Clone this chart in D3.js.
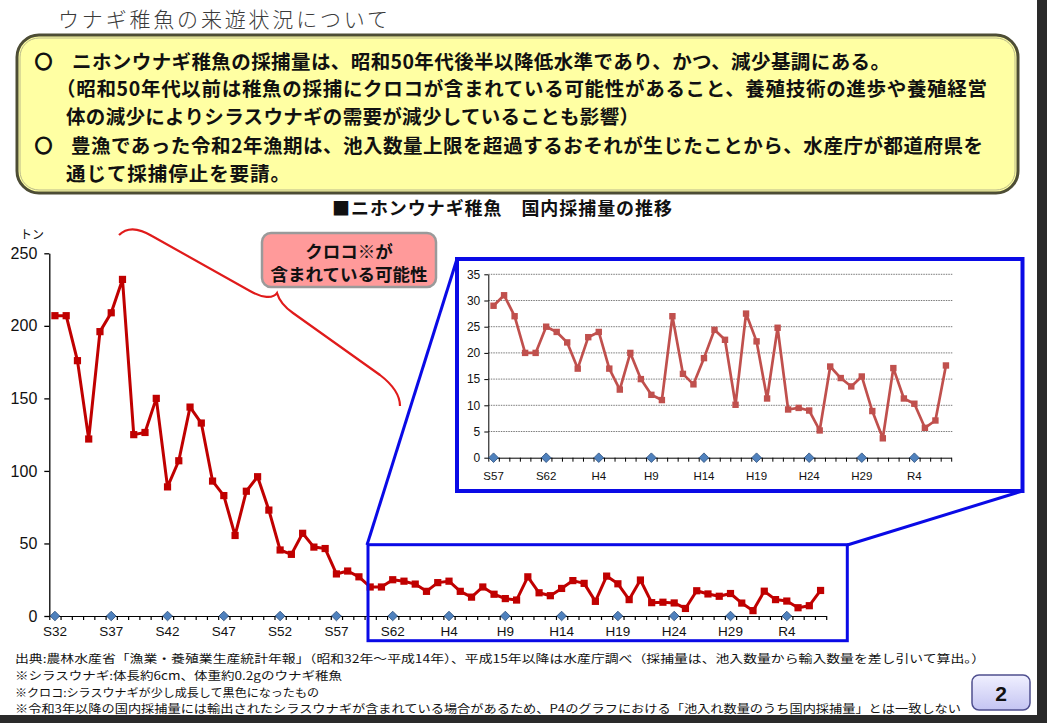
<!DOCTYPE html>
<html lang="ja">
<head>
<meta charset="utf-8">
<script src="https://cdn.jsdelivr.net/npm/d3@7"></script>
<style>
  body { margin: 0; background: #fff; }
  svg { display: block; }
  .jp { font-family: 'Noto Sans CJK JP', sans-serif; }
  .num { font-family: 'Liberation Sans', Arial, sans-serif; }
</style>
</head>
<body>
<svg id="chart"></svg>
<script>
// 漁期年 S32(1957) 〜 R7(2025)
const years = d3.range(1957, 2026);
// 国内採捕量(トン) S32〜S56
const catchEarly = [207, 207, 176, 122, 196, 209, 232, 125, 126.5, 150,
  89, 107, 144, 133, 93, 83, 55.5, 86, 96, 73,
  45.5, 42.5, 57, 47.5, 46.5];
// 国内採捕量(トン) S57〜R7 (拡大図と同じ値)
const catchRecent = [29, 31, 27, 20, 20, 25, 24, 22, 17, 23,
  24, 17, 13, 20, 15, 12, 11, 27, 16, 14,
  19, 24.4, 22.5, 10.1, 27.5, 22.2, 11.3, 24.8, 9.2, 9.5,
  9.0, 5.2, 17.4, 15.2, 13.6, 15.5, 8.9, 3.7, 17.1, 11.3,
  10.3, 5.7, 7.1, 17.6];
const tickYears = [1957, 1962, 1967, 1972, 1977, 1982, 1987, 1992, 1997, 2002, 2007, 2012, 2017, 2022];
const tickNames = ['S32', 'S37', 'S42', 'S47', 'S52', 'S57', 'S62', 'H4', 'H9', 'H14', 'H19', 'H24', 'H29', 'R4'];
const mainTicks = [0, 50, 100, 150, 200, 250];
const insetTicks = [0, 5, 10, 15, 20, 25, 30, 35];

const boxLines = [
  'ニホンウナギ稚魚の採捕量は、昭和50年代後半以降低水準であり、かつ、減少基調にある。',
  '（昭和50年代以前は稚魚の採捕にクロコが含まれている可能性があること、養殖技術の進歩や養殖経営',
  '体の減少によりシラスウナギの需要が減少していることも影響）',
  '豊漁であった令和2年漁期は、池入数量上限を超過するおそれが生じたことから、水産庁が都道府県を',
  '通じて採捕停止を要請。'
];
const notes = [
  '出典:農林水産省「漁業・養殖業生産統計年報」（昭和32年～平成14年）、平成15年以降は水産庁調べ（採捕量は、池入数量から輸入数量を差し引いて算出。）',
  '※シラスウナギ:体長約6cm、体重約0.2gのウナギ稚魚',
  '※クロコ:シラスウナギが少し成長して黒色になったもの',
  '※令和3年以降の国内採捕量には輸出されたシラスウナギが含まれている場合があるため、P4のグラフにおける「池入れ数量のうち国内採捕量」とは一致しない'
];

const mainData = years.map((yr, i) => ({year: yr, value: catchEarly.concat(catchRecent)[i]}));
const insetYears = years.filter(yr => yr >= 1982);
const insetData = insetYears.map((yr, i) => ({year: yr, value: catchRecent[i]}));

const W = 1047, H = 723;
const svg = d3.select('#chart').attr('width', W).attr('height', H);

svg.append('rect').attr('width', W).attr('height', H).attr('fill', '#fff');
svg.append('rect').attr('x', 1037).attr('width', W - 1037).attr('height', H).attr('fill', '#2a2a2a');
svg.append('rect').attr('y', 715).attr('width', W).attr('height', H - 715).attr('fill', '#2a2a2a');

// page title
svg.append('text').attr('class', 'jp')
  .attr('x', 58).attr('y', 18).attr('dominant-baseline', 'central')
  .attr('textLength', 330)
  .style('font-size', '21px').style('font-weight', 300).style('fill', '#3a3a3a')
  .text('ウナギ稚魚の来遊状況について');

// yellow summary box
svg.append('rect').attr('x', 17).attr('y', 35).attr('width', 1001).attr('height', 158)
  .attr('rx', 22).attr('fill', '#ffffa3').attr('stroke', '#4d4d35').attr('stroke-width', 3);
svg.append('rect').attr('x', 20).attr('y', 38).attr('width', 995).attr('height', 152)
  .attr('rx', 19).attr('fill', 'none').attr('stroke', '#b9b98a').attr('stroke-width', 1);

const boxPos = [
  {x: 72, y: 60.5, w: 818},
  {x: 56, y: 87, w: 931},
  {x: 66, y: 115.5, w: 573},
  {x: 71, y: 144.5, w: 912},
  {x: 66, y: 172.5, w: 224}
];
svg.append('g').selectAll('text')
  .data(boxLines)
  .join('text')
  .attr('class', 'jp')
  .attr('x', (d, i) => boxPos[i].x)
  .attr('y', (d, i) => boxPos[i].y)
  .attr('dominant-baseline', 'central')
  .attr('textLength', (d, i) => boxPos[i].w)
  .style('font-size', '19.5px').style('font-weight', 700).style('fill', '#111')
  .text(d => d);
// bullets, thickened with a stroke like the bold original
svg.append('g').selectAll('text')
  .data([60.5, 144.5])
  .join('text')
  .attr('class', 'jp')
  .attr('x', 43.5).attr('y', d => d)
  .attr('text-anchor', 'middle').attr('dominant-baseline', 'central')
  .style('font-size', '17px').style('font-weight', 900).style('fill', '#111')
  .style('stroke', '#111').style('stroke-width', 1.6)
  .text('○');

// chart title
svg.append('text').attr('class', 'jp')
  .attr('x', 502).attr('y', 207).attr('text-anchor', 'middle').attr('dominant-baseline', 'central')
  .attr('textLength', 340)
  .style('font-size', '18px').style('font-weight', 700).style('fill', '#111')
  .text('■ニホンウナギ稚魚　国内採捕量の推移');

// ---------- main chart ----------
const x = d3.scaleBand().domain(years).range([49.3, 826.2]);
const xEdge = d3.scaleLinear().domain([0, years.length]).range(x.range());
const y = d3.scaleLinear().domain([0, 250]).range([616, 253.3]);
const cx = d => x(d.year) + x.bandwidth() / 2;

const main = svg.append('g');

main.append('g')
  .attr('class', 'num')
  .attr('transform', `translate(${x.range()[0]},0)`)
  .call(d3.axisLeft(y).tickValues(mainTicks).tickSize(5).tickSizeOuter(0).tickPadding(7))
  .call(g => g.selectAll('text').style('font-size', '16px').style('fill', '#111'))
  .call(g => g.selectAll('path, line').attr('stroke', '#000').attr('stroke-width', 1.3));

main.append('g')
  .attr('transform', `translate(0,${y(0)})`)
  .call(d3.axisBottom(xEdge).tickValues(d3.range(years.length + 1)).tickSize(4).tickSizeOuter(0).tickFormat(''))
  .call(g => g.selectAll('path, line').attr('stroke', '#000').attr('stroke-width', 1.2));

main.append('g')
  .attr('class', 'num')
  .attr('transform', `translate(0,${y(0)})`)
  .call(d3.axisBottom(x).tickValues(tickYears).tickSize(0).tickPadding(10.5)
    .tickFormat(d => tickNames[tickYears.indexOf(d)]))
  .call(g => g.select('.domain').remove())
  .call(g => g.selectAll('text').style('font-size', '13.5px').style('fill', '#111'));

main.append('text').attr('class', 'jp')
  .attr('x', 32).attr('y', 233).attr('text-anchor', 'middle').attr('dominant-baseline', 'central')
  .style('font-size', '12px').style('fill', '#111').text('トン');

main.append('path')
  .datum(mainData)
  .attr('fill', 'none').attr('stroke', '#c00000').attr('stroke-width', 3)
  .attr('stroke-linejoin', 'round')
  .attr('d', d3.line().x(cx).y(d => y(d.value)));

main.append('g').selectAll('rect')
  .data(mainData)
  .join('rect')
  .attr('x', d => cx(d) - 3.6).attr('y', d => y(d.value) - 3.6)
  .attr('width', 7.2).attr('height', 7.2)
  .attr('fill', '#c00000');

const diamond = d3.symbol(d3.symbolSquare, 46);
main.append('g').selectAll('path')
  .data(tickYears)
  .join('path')
  .attr('transform', d => `translate(${x(d) + x.bandwidth() / 2},${y(0)}) rotate(45)`)
  .attr('d', diamond)
  .attr('fill', '#4f81bd').attr('stroke', '#2e527f').attr('stroke-width', 0.8);

// ---------- callout & brace ----------
svg.append('path')
  .attr('d', 'M119,235 C127,227 139,228 152,236 L250,291 C262,298 273,299 277,293 C279,300 283,306 293,313 L380,375 C393,385 400,395 400,406')
  .attr('fill', 'none').attr('stroke', '#e01b1b').attr('stroke-width', 2.2);

svg.append('rect').attr('x', 262).attr('y', 233).attr('width', 174).attr('height', 54)
  .attr('rx', 9).attr('fill', '#ff9a9a').attr('stroke', '#9a9a9a').attr('stroke-width', 2.5);
svg.append('g').selectAll('text')
  .data(['クロコ※が', '含まれている可能性'])
  .join('text')
  .attr('class', 'jp')
  .attr('x', 349).attr('y', (d, i) => 250 + i * 23)
  .attr('text-anchor', 'middle').attr('dominant-baseline', 'central')
  .style('font-size', '17.5px').style('font-weight', 700).style('fill', '#111')
  .text(d => d);

// ---------- zoom frames ----------
const blue = '#0a0ae6';
svg.append('rect').attr('x', 368).attr('y', 544.7).attr('width', 479.3).attr('height', 96)
  .attr('fill', 'none').attr('stroke', blue).attr('stroke-width', 3);
svg.append('line').attr('x1', 367).attr('y1', 545).attr('x2', 457).attr('y2', 259)
  .attr('stroke', blue).attr('stroke-width', 3);
svg.append('line').attr('x1', 847.3).attr('y1', 545).attr('x2', 1022.5).attr('y2', 491)
  .attr('stroke', blue).attr('stroke-width', 3);
svg.append('rect').attr('x', 457).attr('y', 259).attr('width', 565.5).attr('height', 232)
  .attr('fill', '#fff').attr('stroke', blue).attr('stroke-width', 4);

// ---------- inset chart ----------
const x2 = d3.scaleBand().domain(insetYears).range([488.3, 951.2]);
const x2Edge = d3.scaleLinear().domain([0, insetYears.length]).range(x2.range());
const y2 = d3.scaleLinear().domain([0, 35]).range([457.7, 274.3]);
const cx2 = d => x2(d.year) + x2.bandwidth() / 2;

const inset = svg.append('g');

inset.append('g').selectAll('line')
  .data(insetTicks.filter(v => v > 0))
  .join('line')
  .attr('x1', x2.range()[0]).attr('x2', 953)
  .attr('y1', d => y2(d)).attr('y2', d => y2(d))
  .attr('stroke', '#7a7a7a').attr('stroke-width', 1).attr('stroke-dasharray', '1.5,1');

inset.append('g')
  .attr('class', 'num')
  .attr('transform', `translate(${x2.range()[0]},0)`)
  .call(d3.axisLeft(y2).tickValues(insetTicks).tickSize(4).tickSizeOuter(0).tickPadding(4))
  .call(g => g.selectAll('text').style('font-size', '12px').style('fill', '#111'))
  .call(g => g.selectAll('path, line').attr('stroke', '#000'));

inset.append('g')
  .attr('transform', `translate(0,${y2(0)})`)
  .call(d3.axisBottom(x2Edge).tickValues(d3.range(insetYears.length + 1)).tickSize(4).tickSizeOuter(0).tickFormat(''))
  .call(g => g.selectAll('path, line').attr('stroke', '#000'));

inset.append('g')
  .attr('class', 'num')
  .attr('transform', `translate(0,${y2(0)})`)
  .call(d3.axisBottom(x2).tickValues(tickYears.filter(t => t >= 1982)).tickSize(0).tickPadding(14)
    .tickFormat(d => tickNames[tickYears.indexOf(d)]))
  .call(g => g.select('.domain').remove())
  .call(g => g.selectAll('text').style('font-size', '11.5px').style('fill', '#111'));

inset.append('path')
  .datum(insetData)
  .attr('fill', 'none').attr('stroke', '#c0504d').attr('stroke-width', 2.7)
  .attr('stroke-linejoin', 'round')
  .attr('d', d3.line().x(cx2).y(d => y2(d.value)));

inset.append('g').selectAll('rect')
  .data(insetData)
  .join('rect')
  .attr('x', d => cx2(d) - 3.2).attr('y', d => y2(d.value) - 3.2)
  .attr('width', 6.4).attr('height', 6.4)
  .attr('fill', '#c0504d');

inset.append('g').selectAll('path')
  .data(tickYears.filter(t => t >= 1982))
  .join('path')
  .attr('transform', d => `translate(${x2(d) + x2.bandwidth() / 2},${y2(0)}) rotate(45)`)
  .attr('d', diamond)
  .attr('fill', '#4f81bd').attr('stroke', '#2e527f').attr('stroke-width', 0.8);

// ---------- footnotes ----------
const noteW = [970, 327, 304, 946];
svg.append('g').selectAll('text')
  .data(notes)
  .join('text')
  .attr('class', 'jp')
  .attr('x', 15).attr('y', (d, i) => 658 + i * 16.8)
  .attr('dominant-baseline', 'central')
  .attr('textLength', (d, i) => noteW[i]).attr('lengthAdjust', 'spacingAndGlyphs')
  .style('font-size', '11.4px').style('fill', '#111')
  .text(d => d);

// ---------- page number ----------
const grad = svg.append('defs').append('linearGradient')
  .attr('id', 'pg').attr('x1', 0).attr('y1', 0).attr('x2', 0).attr('y2', 1);
grad.append('stop').attr('offset', 0).attr('stop-color', '#f0f0ff');
grad.append('stop').attr('offset', 1).attr('stop-color', '#c4c4f2');
svg.append('rect').attr('x', 972).attr('y', 675).attr('width', 58).attr('height', 35)
  .attr('rx', 7).attr('fill', 'url(#pg)').attr('stroke', '#4f4f8f').attr('stroke-width', 1.5);
svg.append('text').attr('class', 'num')
  .attr('x', 1001).attr('y', 693).attr('text-anchor', 'middle').attr('dominant-baseline', 'central')
  .style('font-size', '21px').style('font-weight', 700).style('fill', '#111')
  .text('2');
</script>
</body>
</html>
